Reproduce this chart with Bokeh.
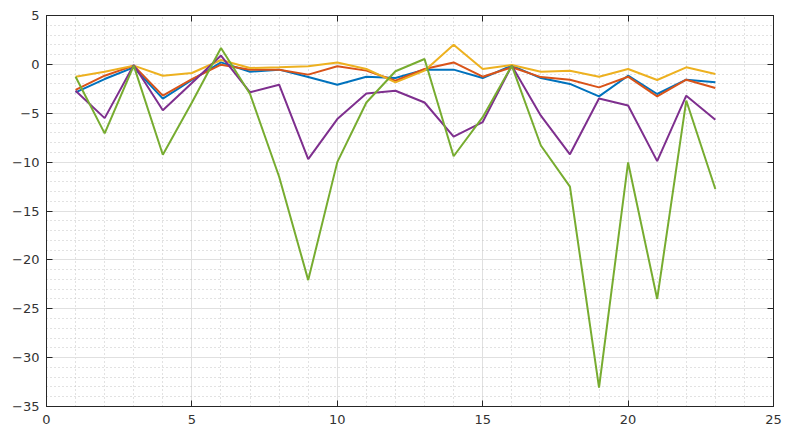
from bokeh.plotting import figure
from bokeh.models import Range1d, SingleIntervalTicker, LinearAxis, Grid
from bokeh.embed import file_html
from bokeh.resources import INLINE

x = list(range(1, 24))
blue = [-2.86, -1.5, -0.3, -3.5, -1.6, 0.2, -0.75, -0.54, -1.3, -2.08, -1.26, -1.4,
        -0.54, -0.54, -1.4, -0.13, -1.4, -2.0, -3.27, -1.16, -3.03, -1.57, -1.84]
orange = [-2.6, -1.16, -0.13, -3.2, -1.5, -0.03, -0.54, -0.54, -1.05, -0.2, -0.64, -1.67,
          -0.47, 0.2, -1.26, -0.3, -1.3, -1.57, -2.35, -1.26, -3.27, -1.57, -2.42]
yellow = [-1.26, -0.75, -0.13, -1.16, -0.88, 0.45, -0.37, -0.3, -0.2, 0.2, -0.47, -1.84,
          -0.64, 2.0, -0.47, -0.07, -0.75, -0.65, -1.26, -0.47, -1.6, -0.3, -0.98]
purple = [-2.69, -5.5, -0.07, -4.7, -1.9, 0.9, -2.86, -2.08, -9.7, -5.6, -2.97, -2.7,
          -3.9, -7.4, -5.9, -0.13, -5.25, -9.2, -3.5, -4.2, -9.9, -3.2, -5.66]
green = [-1.26, -7.06, -0.13, -9.24, -3.9, 1.67, -3.03, -11.5, -22.07, -10.0, -3.9, -0.7,
         0.55, -9.4, -5.4, -0.13, -8.3, -12.5, -33.06, -10.03, -24.0, -3.7, -12.75]

series = [(blue, "#0072BD"), (orange, "#D95319"), (yellow, "#EDB120"),
          (purple, "#7E2F8E"), (green, "#77AC30")]

p = figure(width=785, height=432, output_backend="svg", toolbar_location=None,
           x_range=Range1d(0, 25), y_range=Range1d(-35, 5),
           min_border_left=46, min_border_top=15, min_border_right=12, min_border_bottom=26,
           x_axis_type=None, y_axis_type=None)
p.background_fill_color = "white"
p.border_fill_color = "white"
p.outline_line_color = "#262626"
p.outline_line_width = 1

xt = SingleIntervalTicker(interval=5, num_minor_ticks=5)
yt = SingleIntervalTicker(interval=5, num_minor_ticks=5)

def style(ax, labels=True, standoff=7):
    ax.axis_line_color = "#262626"
    ax.major_tick_in = 6
    ax.major_tick_out = 0
    ax.minor_tick_in = 0
    ax.minor_tick_out = 0
    ax.major_tick_line_color = "#262626"
    ax.major_label_text_font = "DejaVu Sans"
    if labels:
        ax.major_label_text_font_size = "13px"
        ax.major_label_text_color = "#333333"
        ax.major_label_standoff = standoff
    else:
        ax.major_label_text_font_size = "0px"
        ax.major_label_text_color = None
        ax.major_label_text_alpha = 0
        ax.major_label_standoff = 0

xb = LinearAxis(ticker=xt); style(xb, True, 8); p.add_layout(xb, "below")
yl = LinearAxis(ticker=yt); style(yl, True, 7); p.add_layout(yl, "left")
xa = LinearAxis(ticker=xt); style(xa, False); p.add_layout(xa, "above")
yr = LinearAxis(ticker=yt); style(yr, False); p.add_layout(yr, "right")

for dim, tk in ((0, xt), (1, yt)):
    g = Grid(dimension=dim, ticker=tk)
    g.grid_line_color = "#e0e0e0"
    g.grid_line_width = 1
    g.minor_grid_line_color = "#c4c4c4"
    g.minor_grid_line_dash = "1 3"
    g.minor_grid_line_width = 1
    p.add_layout(g, "center")

for ys, c in series:
    p.line(x, ys, line_color=c, line_width=2)

open("out.html", "w").write(file_html(p, INLINE))
